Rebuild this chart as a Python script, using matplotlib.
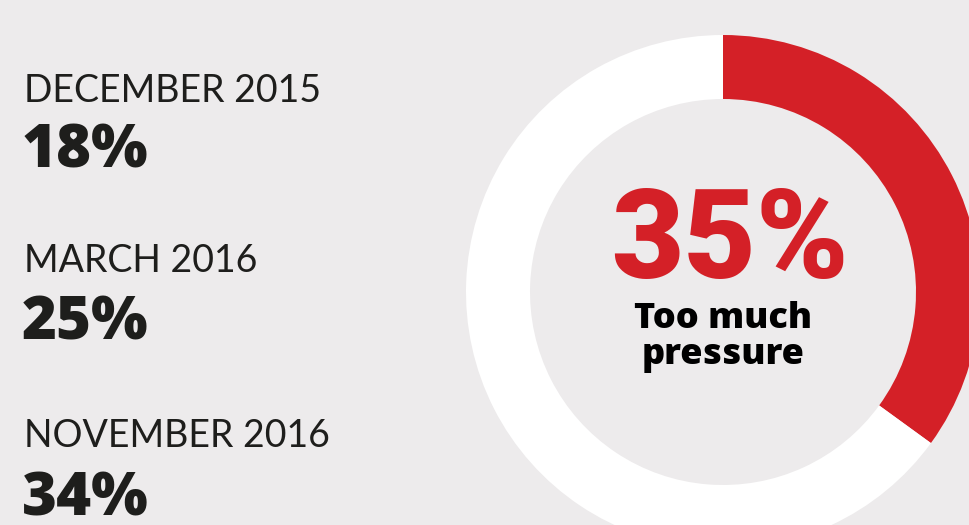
import matplotlib.pyplot as plt

# Survey data
periods = ["DECEMBER 2015", "MARCH 2016", "NOVEMBER 2016"]
period_values = [18, 25, 34]
current_value = 35
current_lines = ["Too much", "pressure"]

bg = "#edebec"
red = "#d42027"
dark = "#1e1e1c"

W, H = 969, 525
fig = plt.figure(figsize=(W / 100, H / 100), dpi=100, facecolor=bg)
ax = fig.add_axes([0, 0, 1, 1])
ax.set_facecolor(bg)

# Donut
ax.pie([current_value, 100 - current_value], colors=[red, "white"],
       startangle=90, counterclock=False, radius=257, center=(723, H - 292),
       wedgeprops=dict(width=64, linewidth=0))

ax.set_xlim(0, W)
ax.set_ylim(0, H)
ax.set_aspect("equal")
ax.axis("off")

# Left column: previous surveys
label_base = [102, 272, 447]
value_base = [168, 340, 516]
for p, v, yl, yv in zip(periods, period_values, label_base, value_base):
    ax.text(24, H - yl, p, fontsize=27, family="Lato", weight="normal",
            color=dark, va="baseline", ha="left")
    ax.text(22, H - yv, f"{v}%", fontsize=43, family="Open Sans", weight=800,
            color=dark, va="baseline", ha="left")

# Centre text
ax.text(730, H - 278, f"{current_value}%", fontsize=90, family="Roboto",
        weight="heavy", color=red, va="baseline", ha="center")
for line, yb in zip(current_lines, [328, 364]):
    ax.text(723, H - yb, line, fontsize=26, family="Open Sans",
            weight=800, color="black", va="baseline", ha="center")

fig.savefig("out.png", dpi=100, facecolor=bg)
